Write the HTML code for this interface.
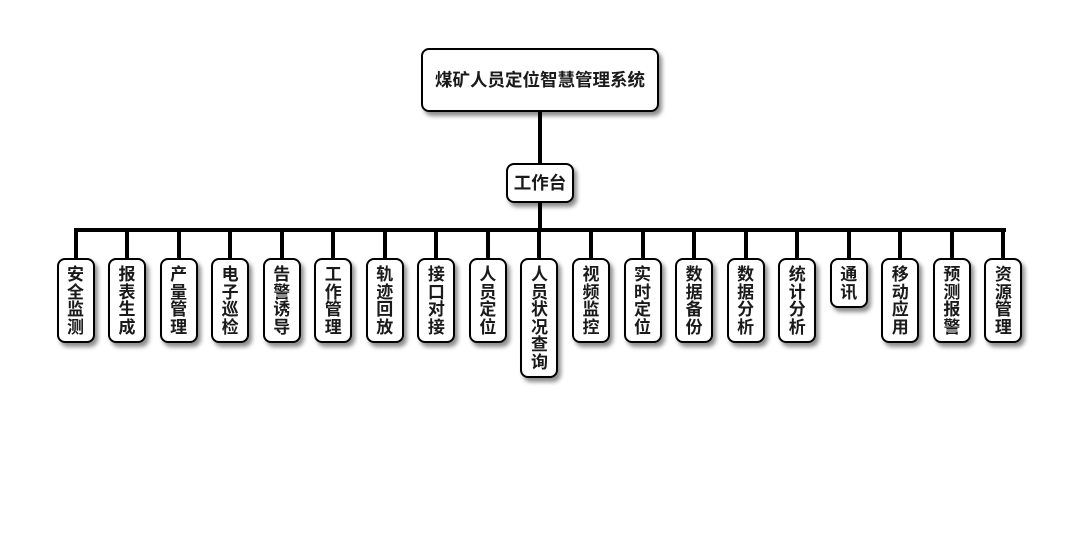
<!DOCTYPE html>
<html><head><meta charset="utf-8"><style>
html,body{margin:0;padding:0;background:#fff;}
body{width:1080px;height:560px;position:relative;overflow:hidden;font-family:"Liberation Sans","Noto Sans CJK SC",sans-serif;font-weight:bold;color:#1a1a1a;}
.b{position:absolute;box-sizing:border-box;border:2px solid #000;border-radius:8px;background:#fff;box-shadow:3px 4px 4px rgba(0,0,0,0.45);text-align:center;}
.c{width:38px;top:258px;font-size:17px;line-height:17.5px;padding-top:6px;}
.l{position:absolute;background:#000;}
</style></head><body>
<div class="l" style="left:538px;top:110px;width:4px;height:55px;"></div>
<div class="l" style="left:538px;top:200px;width:4px;height:30px;"></div>
<div class="l" style="left:73.5px;top:227.5px;width:932px;height:4px;"></div>
<div id="stubs"></div>
<div class="b" style="left:421px;top:48px;width:238px;height:64px;font-size:17.5px;line-height:60px;">煤矿人员定位智慧管理系统</div>
<div class="b" style="left:506px;top:163px;width:68px;height:40px;font-size:17.5px;line-height:36px;">工作台</div>
<script>
var names=["安全监测","报表生成","产量管理","电子巡检","告警诱导","工作管理","轨迹回放","接口对接","人员定位","人员状况查询","视频监控","实时定位","数据备份","数据分析","统计分析","通讯","移动应用","预测报警","资源管理"];
var h="";
for(var i=0;i<names.length;i++){
  var cx=75.5+i*51.55;
  h+='<div class="l" style="left:'+(cx-2)+'px;top:229px;width:4px;height:30px;"></div>';
}
document.getElementById("stubs").innerHTML=h;
for(var i=0;i<names.length;i++){
  var cx=75.5+i*51.55;
  var n=names[i].length;
  var d=document.createElement("div");
  d.className="b c";
  d.style.left=(cx-19)+"px";
  d.style.height=(n*17.5+15)+"px";
  d.innerHTML=names[i].split("").join("<br>");
  document.body.appendChild(d);
}
</script>
</body></html>
